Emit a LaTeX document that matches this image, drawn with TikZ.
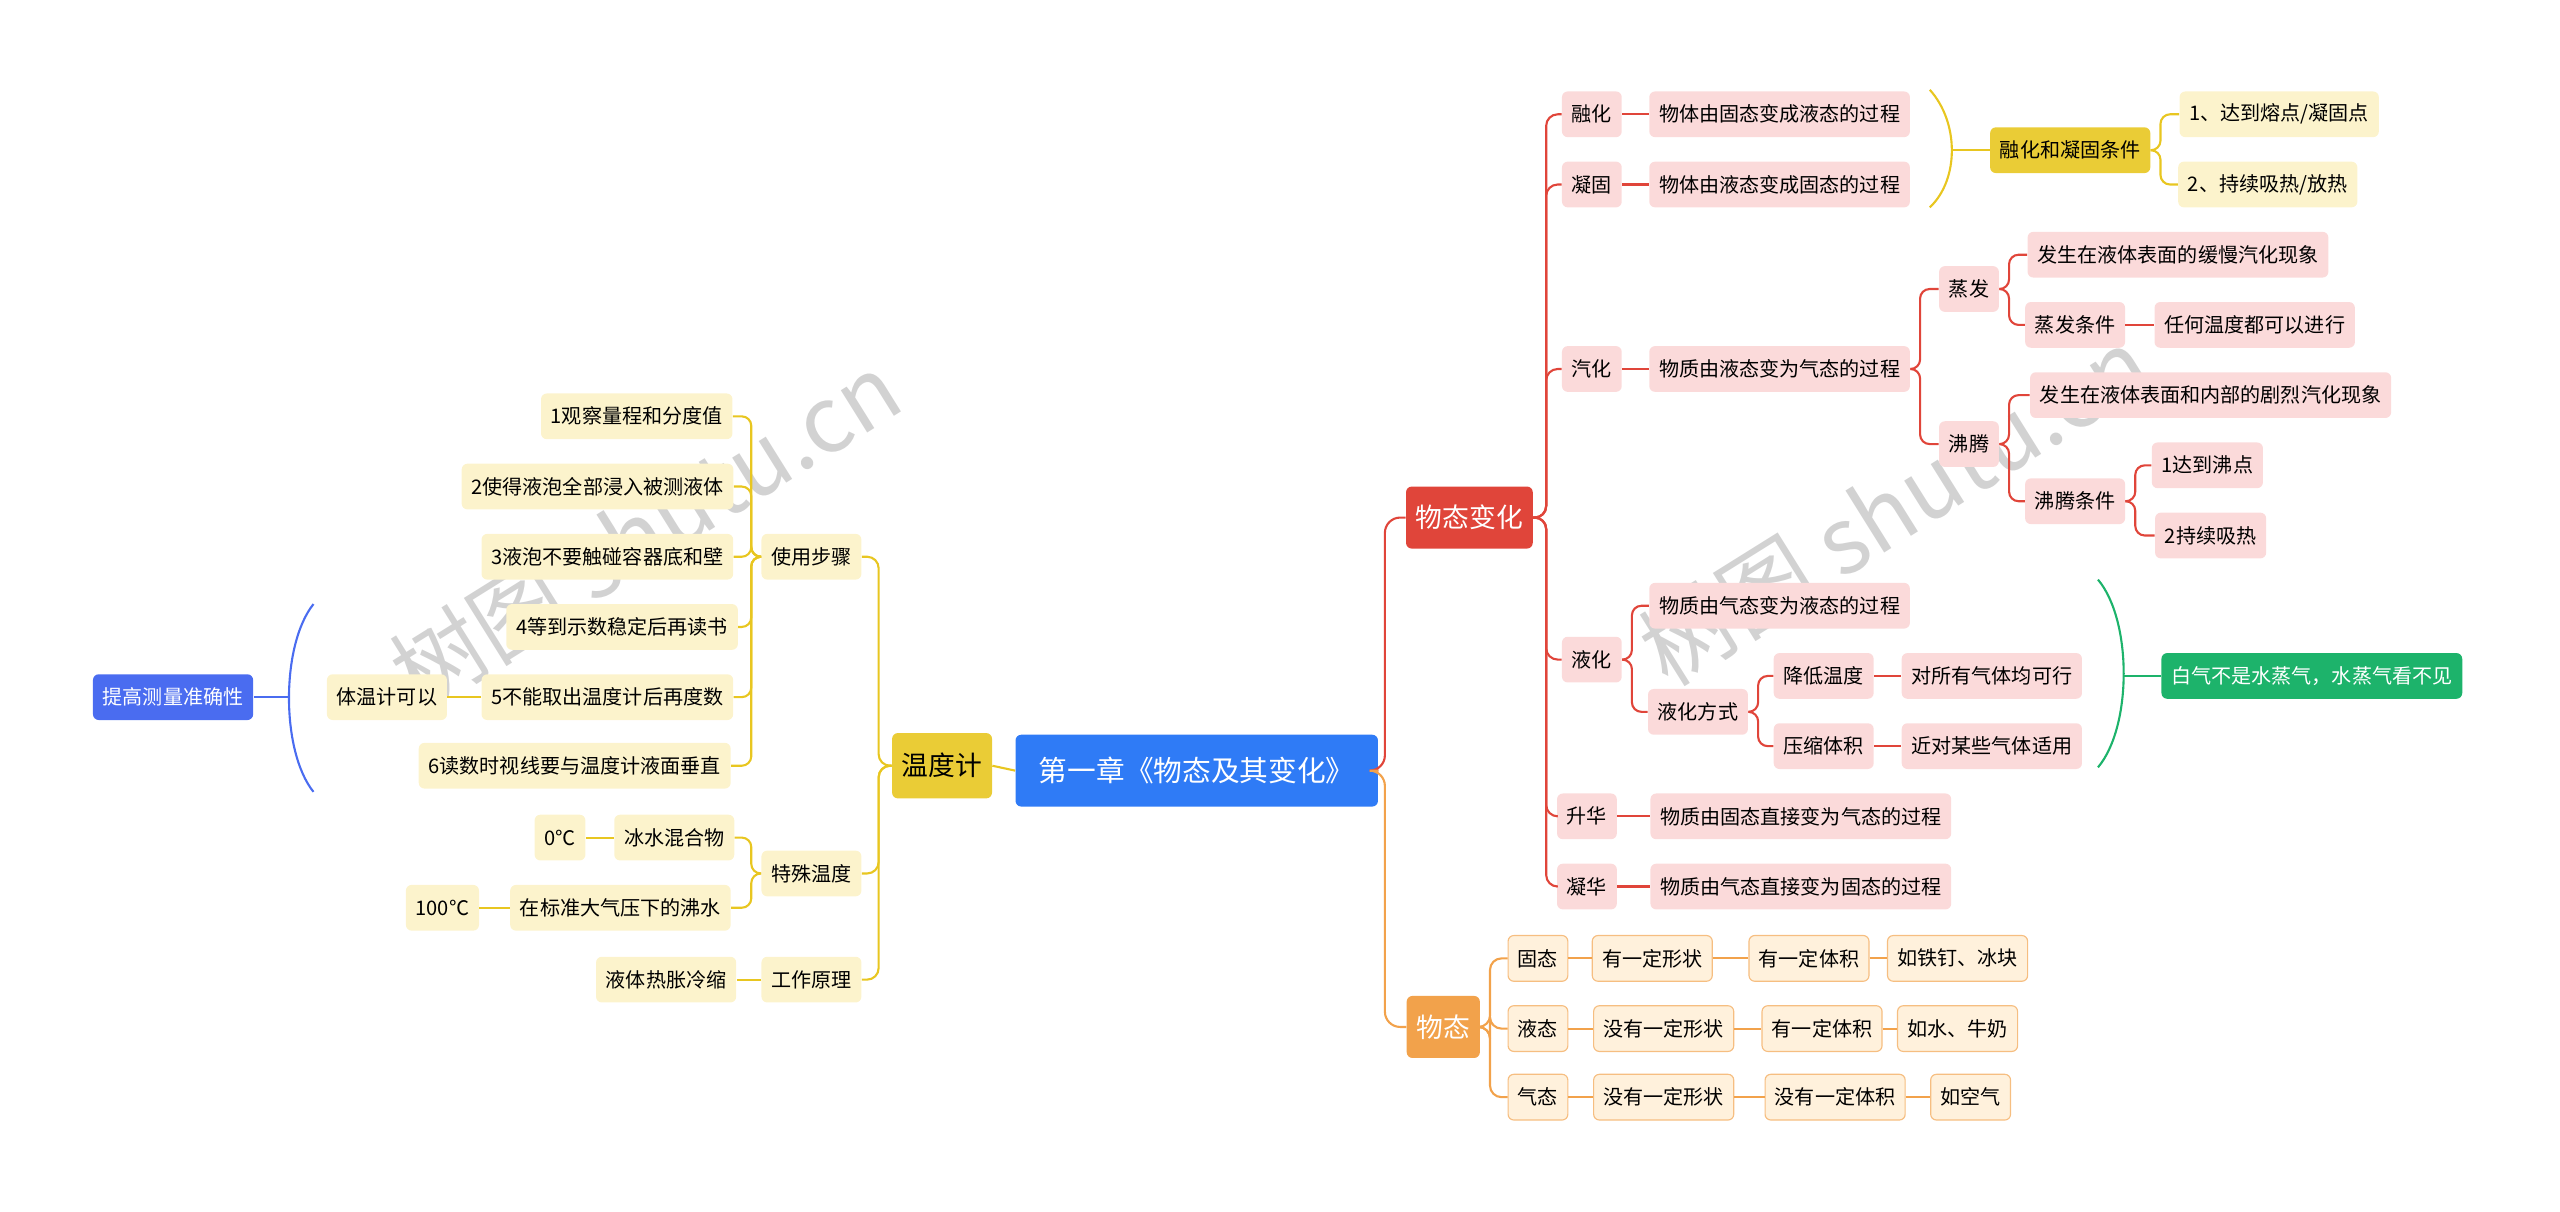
\documentclass[tikz,border=0pt]{standalone}
\usepackage{fontspec}
\setmainfont{Noto Sans CJK SC}
\definecolor{redL}{HTML}{E0453A}
\definecolor{pinkF}{HTML}{FBDADA}
\definecolor{ylL}{HTML}{E8C620}
\definecolor{ylF}{HTML}{FCF3CC}
\definecolor{orL}{HTML}{F2A24B}
\definecolor{orF}{HTML}{FFF1DC}
\definecolor{blueR}{HTML}{2F7BF6}
\definecolor{blueL}{HTML}{4A6CF0}
\definecolor{grn}{HTML}{1DB36B}
\newcommand\fsz{\fontsize{10.5}{12}\selectfont}
\newcommand\rc[3]{\draw[#1,rounded corners=5pt] (#2.east) -- ++(6,0) |- (#3.west);}
\newcommand\lc[3]{\draw[#1,rounded corners=5pt] (#2.west) -- ++(-6,0) |- (#3.east);}
\begin{document}
\begin{tikzpicture}[x=0.03cm,y=-0.03cm,
  base/.style={rounded corners=3pt,minimum height=0.84cm,inner xsep=0.18cm,font=\fsz},
  pk/.style={base,fill=pinkF},
  yl/.style={base,fill=ylF},
  ob/.style={base,fill=orF,draw=orL!70,line width=0.6pt},
  rl/.style={draw=redL,line width=1.1pt},
  yline/.style={draw=ylL,line width=1.1pt},
  oline/.style={draw=orL,line width=1.1pt}]
\useasboundingbox (0,0) rectangle (1568,742);
% watermarks
\node[rotate=32,text=gray!35,font=\fontsize{48}{50}\selectfont] (wm1) at (395,325) {树图 shutu.cn};
\node[rotate=32,text=gray!35,font=\fontsize{48}{50}\selectfont] (wm2) at (1160,310) {树图 shutu.cn};
% main
\node[base,fill=blueR,text=white,font=\fontsize{15}{17}\selectfont,minimum width=6.66cm,minimum height=1.32cm] (root) at (733,472) {第一章《物态及其变化》};
\node[base,fill=ylL!90,font=\fontsize{14}{16}\selectfont,minimum height=1.2cm] (wdj) at (577,469) {温度计};
\node[base,fill=redL,text=white,font=\fontsize{14}{16}\selectfont,minimum height=1.14cm] (wtbh) at (900,317) {物态变化};
\node[base,fill=orL,text=white,font=\fontsize{14}{16}\selectfont,minimum height=1.14cm] (wt) at (884,629) {物态};
\draw[yline] (root.west) -- (wdj.east);
\draw[rl,rounded corners=8pt] (root.east) -- ++(4,0) |- (wtbh.west);
\draw[oline,rounded corners=8pt] (root.east) -- ++(4,0) |- (wt.west);
% right red
\node[pk] (rh) at (975,70) {融化};
\node[pk] (ng) at (975,113) {凝固};
\node[pk] (qh) at (975,226) {汽化};
\node[pk] (yh) at (975,404) {液化};
\node[pk] (sh) at (972,500) {升华};
\node[pk] (nh) at (972,543) {凝华};
\foreach \c in {rh,ng,qh,yh,sh,nh} {\draw[rl,rounded corners=6pt] (wtbh.east) -- ++(8,0) |- (\c.west);}
\node[pk] (rh1) at (1090,70) {物体由固态变成液态的过程};
\node[pk] (ng1) at (1090,113) {物体由液态变成固态的过程};
\node[pk] (qh1) at (1090,226) {物质由液态变为气态的过程};
\node[pk] (sh1) at (1103,500) {物质由固态直接变为气态的过程};
\node[pk] (nh1) at (1103,543) {物质由气态直接变为固态的过程};
\draw[rl] (rh)--(rh1); \draw[rl] (ng)--(ng1); \draw[rl] (qh)--(qh1); \draw[rl] (sh)--(sh1); \draw[rl] (nh)--(nh1);
% bracket yellow
\draw[yline] (1182,55) .. controls (1200,75) and (1200,110) .. (1182,127);
\node[base,fill=ylL!90] (rntj) at (1268,92) {融化和凝固条件};
\coordinate (b1) at (1196,92);
\draw[yline] (b1) -- (rntj.west);
\node[yl] (t1) at (1396,70) {1、达到熔点/凝固点};
\node[yl] (t2) at (1389,113) {2、持续吸热/放热};
\rc{yline}{rntj}{t1} \rc{yline}{rntj}{t2}
% qihua
\node[pk] (zf) at (1206,177) {蒸发};
\node[pk] (ft) at (1206,272) {沸腾};
\rc{rl}{qh1}{zf} \rc{rl}{qh1}{ft}
\node[pk] (zf1) at (1334,156) {发生在液体表面的缓慢汽化现象};
\node[pk] (zf2) at (1271,199) {蒸发条件};
\node[pk] (zf3) at (1381,199) {任何温度都可以进行};
\rc{rl}{zf}{zf1} \rc{rl}{zf}{zf2} \draw[rl] (zf2)--(zf3);
\node[pk] (ft1) at (1354,242) {发生在液体表面和内部的剧烈汽化现象};
\node[pk] (ft2) at (1271,307) {沸腾条件};
\rc{rl}{ft}{ft1} \rc{rl}{ft}{ft2}
\node[pk] (ft3) at (1352,285) {1达到沸点};
\node[pk] (ft4) at (1354,328) {2持续吸热};
\rc{rl}{ft2}{ft3} \rc{rl}{ft2}{ft4}
% yehua
\node[pk] (yh1) at (1090,371) {物质由气态变为液态的过程};
\node[pk] (yh2) at (1040,436) {液化方式};
\rc{rl}{yh}{yh1} \rc{rl}{yh}{yh2}
\node[pk] (jd) at (1117,414) {降低温度};
\node[pk] (ys) at (1117,457) {压缩体积};
\rc{rl}{yh2}{jd} \rc{rl}{yh2}{ys}
\node[pk] (jd1) at (1220,414) {对所有气体均可行};
\node[pk] (ys1) at (1220,457) {近对某些气体适用};
\draw[rl] (jd)--(jd1); \draw[rl] (ys)--(ys1);
\draw[draw=grn,line width=1.1pt] (1285,355) .. controls (1306,380) and (1306,445) .. (1285,470);
\coordinate (b2) at (1301,414);
\node[base,fill=grn,text=white] (bq) at (1416,414) {白气不是水蒸气，水蒸气看不见};
\draw[draw=grn,line width=1.1pt] (b2) -- (bq.west);
% wutai
\node[ob] (gt) at (942,587) {固态};
\node[ob] (yt) at (942,630) {液态};
\node[ob] (qt) at (942,672) {气态};
\foreach \c in {gt,yt,qt} {\draw[oline,rounded corners=6pt] (wt.east) -- ++(6,0) |- (\c.west);}
\node[ob] (g1) at (1012,587) {有一定形状};
\node[ob] (g2) at (1108,587) {有一定体积};
\node[ob] (g3) at (1199,587) {如铁钉、冰块};
\node[ob] (y1) at (1019,630) {没有一定形状};
\node[ob] (y2) at (1116,630) {有一定体积};
\node[ob] (y3) at (1199,630) {如水、牛奶};
\node[ob] (q1) at (1019,672) {没有一定形状};
\node[ob] (q2) at (1124,672) {没有一定体积};
\node[ob] (q3) at (1207,672) {如空气};
\draw[oline] (gt)--(g1)--(g2)--(g3);
\draw[oline] (yt)--(y1)--(y2)--(y3);
\draw[oline] (qt)--(q1)--(q2)--(q3);
% left
\node[yl] (sy) at (497,341) {使用步骤};
\node[yl] (ts) at (497,535) {特殊温度};
\node[yl] (gz) at (497,600) {工作原理};
\foreach \c in {sy,ts,gz} {\draw[yline,rounded corners=6pt] (wdj.west) -- ++(-8,0) |- (\c.east);}
\node[yl] (s1) at (390,255) {1观察量程和分度值};
\node[yl] (s2) at (366,298) {2使得液泡全部浸入被测液体};
\node[yl] (s3) at (372,341) {3液泡不要触碰容器底和壁};
\node[yl] (s4) at (381,384) {4等到示数稳定后再读书};
\node[yl] (s5) at (372,427) {5不能取出温度计后再度数};
\node[yl] (s6) at (352,469) {6读数时视线要与温度计液面垂直};
\foreach \c in {s1,s2,s3,s4,s5,s6} {\lc{yline}{sy}{\c}}
\node[yl] (tw) at (237,427) {体温计可以};
\draw[yline] (s5)--(tw);
\node[yl] (bs) at (413,513) {冰水混合物};
\node[yl] (fs) at (380,556) {在标准大气压下的沸水};
\lc{yline}{ts}{bs} \lc{yline}{ts}{fs}
\node[yl] (t0) at (343,513) {0℃};
\node[yl] (t100) at (271,556) {100℃};
\draw[yline] (bs)--(t0); \draw[yline] (fs)--(t100);
\node[yl] (rz) at (408,600) {液体热胀冷缩};
\draw[yline] (gz)--(rz);
\draw[draw=blueL,line width=1.1pt] (192,370) .. controls (172,395) and (172,460) .. (192,485);
\coordinate (b3) at (177,427);
\node[base,fill=blueL,text=white] (tg) at (106,427) {提高测量准确性};
\draw[draw=blueL,line width=1.1pt] (b3) -- (tg.east);
\end{tikzpicture}
\end{document}
